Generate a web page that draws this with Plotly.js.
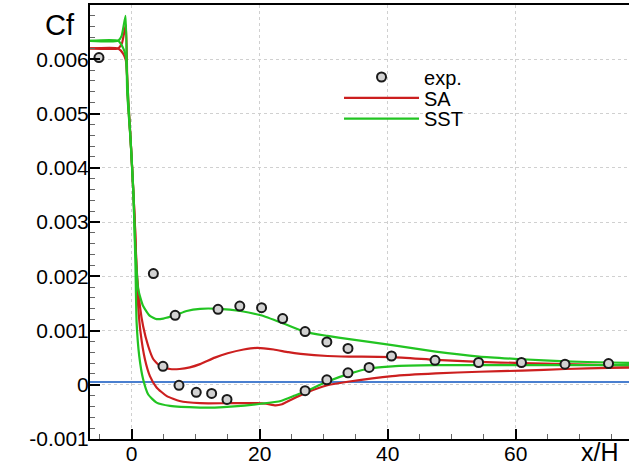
<!DOCTYPE html>
<html>
<head>
<meta charset="utf-8">
<script src="https://cdn.plot.ly/plotly-3.0.1.min.js"></script>
<style>html,body{margin:0;padding:0;background:#fff;overflow:hidden}#chart{width:629px;height:469px}</style>
</head>
<body>
<div id="chart"></div>
<script>
// Experimental data (exp.)
const expX = [-5.1, 3.4, 4.9, 6.8, 7.4, 10.1, 12.5, 13.5, 14.9, 16.9, 20.3, 23.6, 27.1, 27.1, 30.5, 30.5, 33.8, 33.8, 37.1, 40.6, 47.4, 54.2, 60.9, 67.7, 74.5];
const expY = [0.00603, 0.00205, 0.00034, 0.00128, -0.00001, -0.00014, -0.00016, 0.00139, -0.00027, 0.00145, 0.00142, 0.00122, 0.00098, -0.00011, 0.00079, 0.00009, 0.00067, 0.00022, 0.00032, 0.00053, 0.00045, 0.00041, 0.00041, 0.00038, 0.00039];

// SA model, wall 1 (with spike)
const saAX = [-6.5, -2.1, -1.5, -0.9, -0.65, -0.15, 0.25, 0.5, 0.75, 1.3, 1.8, 2.6, 3.4, 4.4, 6.0, 7.5, 9.1, 10.7, 13, 15, 17.5, 19.6, 22.2, 24.5, 26.4, 30.6, 34, 40.7, 47.5, 54.3, 61, 67.8, 74.6, 80];
const saAY = [0.0062, 0.0062, 0.0063, 0.00664, 0.0054, 0.0045, 0.0036, 0.003, 0.0022, 0.00145, 0.00108, 0.00071, 0.00047, 0.00035, 0.00029, 0.00029, 0.00032, 0.00038, 0.0005, 0.00058, 0.00065, 0.00068, 0.00065, 0.0006, 0.00057, 0.00053, 0.00052, 0.00051, 0.00046, 0.00042, 0.0004, 0.00038, 0.00036, 0.00035];
// SA model, wall 2
const saBX = [-6.5, -2.1, -1.3, -0.9, -0.5, -0.1, 0.3, 0.6, 0.75, 1.03, 1.4, 2.08, 2.86, 3.9, 5.5, 7.5, 10.7, 15, 19.6, 21, 22.5, 23.5, 25, 27.2, 30.6, 34, 40.7, 47.5, 54.3, 61, 67.8, 74.6, 80];
const saBY = [0.0062, 0.0062, 0.0061, 0.00598, 0.0052, 0.0044, 0.0035, 0.0027, 0.0022, 0.00145, 0.00096, 0.00047, 0.00016, -0.00005, -0.00021, -0.0003, -0.00034, -0.00034, -0.00034, -0.00035, -0.00038, -0.00036, -0.00027, -0.00015, -0.00001, 0.00006, 0.00016, 0.00021, 0.00024, 0.00026, 0.00029, 0.00031, 0.00032];

// SST model, wall 1 (with spike)
const sstAX = [-6.5, -2.1, -1.56, -0.94, -0.69, -0.16, 0.25, 0.52, 1.03, 1.8, 2.86, 3.9, 4.94, 6.77, 8.6, 10.7, 13.6, 17.0, 20.2, 23.7, 27.2, 30.6, 34, 40.7, 47.5, 54.3, 61, 67.8, 74.6, 80];
const sstAY = [0.00634, 0.00634, 0.00643, 0.0068, 0.0054, 0.0045, 0.00359, 0.0027, 0.00176, 0.00145, 0.00127, 0.00121, 0.00122, 0.00128, 0.00136, 0.0014, 0.0014, 0.00136, 0.00128, 0.00113, 0.00097, 0.0009, 0.00084, 0.00073, 0.00061, 0.00052, 0.00047, 0.00043, 0.00041, 0.0004];
// SST model, wall 2
const sstBX = [-6.5, -2.1, -1.3, -0.9, -0.5, -0.1, 0.3, 0.6, 0.78, 1.19, 1.8, 2.6, 3.9, 6.0, 10.7, 13, 16, 20.2, 23.3, 25.5, 27.2, 30.6, 34.2, 37.2, 40.7, 47.5, 54.3, 61, 67.8, 74.6, 80];
const sstBY = [0.00634, 0.00634, 0.0062, 0.00605, 0.0052, 0.0044, 0.0035, 0.0022, 0.00115, 0.00053, 0.0001, -0.00018, -0.00033, -0.00039, -0.00042, -0.00042, -0.0004, -0.00035, -0.0003, -0.0002, -0.00012, 0.00006, 0.00021, 0.0003, 0.00034, 0.00036, 0.00036, 0.00036, 0.00036, 0.00036, 0.00036];

// Horizontal reference line
const refX = [-6.5, 80];
const refY = [0.00005, 0.00005];

// Tick labels
const xTickVals = [0, 20, 40, 60];
const xTickText = ['0', '20', '40', '60'];
const yTickVals = [-0.001, 0, 0.001, 0.002, 0.003, 0.004, 0.005, 0.006];
const yTickText = ['-0.001', '0', '0.001', '0.002', '0.003', '0.004', '0.005', '0.006'];

const RED = '#cc1f1f', GREEN = '#22c422', BLUE = '#4a7fcf';
const FONT = 'Liberation Sans, Arial, Helvetica, sans-serif';
const LINE = (c) => ({color: c, width: 2.2, shape: 'spline', smoothing: 0.5});

const traces = [
  {x: refX, y: refY, mode: 'lines', line: {color: BLUE, width: 2}, showlegend: false, hoverinfo: 'skip'},
  {x: saAX, y: saAY, mode: 'lines', name: 'SA', legend: 'legend2', line: LINE(RED)},
  {x: saBX, y: saBY, mode: 'lines', name: 'SA', line: LINE(RED), showlegend: false},
  {x: sstAX, y: sstAY, mode: 'lines', name: 'SST', legend: 'legend3', line: LINE(GREEN)},
  {x: sstBX, y: sstBY, mode: 'lines', name: 'SST', line: LINE(GREEN), showlegend: false},
  {x: expX, y: expY, mode: 'markers', name: 'exp.', legend: 'legend', marker: {symbol: 'circle', size: 9, color: '#d2d2d2', line: {color: '#1a1a1a', width: 2}}}
];

function leg(y) {
  return {x: 0.462, y: y, xanchor: 'left', yanchor: 'top', bgcolor: 'rgba(0,0,0,0)', borderwidth: 0,
          font: {family: FONT, size: 20, color: '#000'}, itemwidth: 75};
}

const layout = {
  width: 629, height: 469,
  margin: {l: 90, r: 0, t: 5, b: 30},
  paper_bgcolor: '#fff', plot_bgcolor: '#fff',
  font: {family: FONT, size: 20, color: '#000'},
  showlegend: true,
  legend: leg(0.879),
  legend2: leg(0.831),
  legend3: leg(0.783),
  xaxis: {
    range: [-6.5, 77.7], tickvals: xTickVals, ticktext: xTickText,
    ticks: 'inside', ticklen: 10, tickwidth: 2, tickcolor: '#000',
    showline: true, linecolor: '#000', linewidth: 2, mirror: true,
    showgrid: true, gridcolor: '#d0d0d0', griddash: 'dot', gridwidth: 1, zeroline: false,
    minor: {dtick: 5, tick0: 0, ticks: 'inside', ticklen: 5, tickwidth: 1, tickcolor: '#666', showgrid: false},
    tickfont: {family: FONT, size: 21, color: '#000'}, ticklabelstandoff: -5
  },
  yaxis: {
    range: [-0.001, 0.007], tickvals: yTickVals, ticktext: yTickText,
    ticks: 'inside', ticklen: 10, tickwidth: 2, tickcolor: '#000',
    showline: true, linecolor: '#000', linewidth: 2, mirror: false,
    showgrid: true, gridcolor: '#d0d0d0', griddash: 'dot', gridwidth: 1, zeroline: false,
    minor: {dtick: 0.0002, tick0: 0, ticks: 'inside', ticklen: 5, tickwidth: 1, tickcolor: '#666', showgrid: false},
    tickfont: {family: FONT, size: 21, color: '#000'}, ticklabelstandoff: -5
  },
  annotations: [
    {text: 'Cf', xref: 'paper', yref: 'paper', x: -0.056, y: 0.953, xanchor: 'center', yanchor: 'middle', showarrow: false, font: {family: FONT, size: 29, color: '#000'}},
    {text: 'x/H', xref: 'paper', yref: 'paper', x: 0.985, y: -0.03, xanchor: 'right', yanchor: 'middle', showarrow: false, font: {family: FONT, size: 25, color: '#000'}}
  ]
};

Plotly.newPlot('chart', traces, layout, {staticPlot: true, displayModeBar: false});
</script>
</body>
</html>
